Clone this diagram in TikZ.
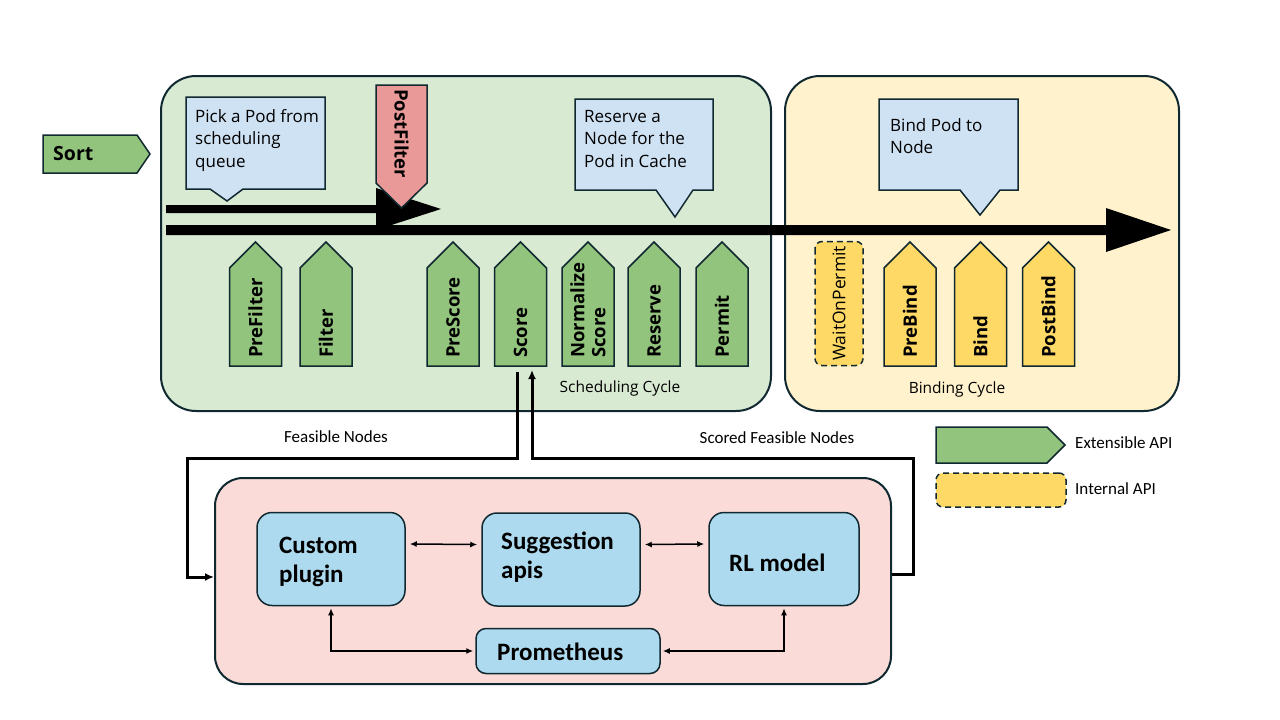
\documentclass[tikz,border=0pt]{standalone}
\usepackage{fontspec}
\setmainfont{Open Sans}
\newfontfamily\carl{Carlito}
\usetikzlibrary{arrows.meta}
\definecolor{bord}{RGB}{16,40,48}
\definecolor{schedbg}{RGB}{217,234,211}
\definecolor{bindbg}{RGB}{255,242,204}
\definecolor{extg}{RGB}{147,196,125}
\definecolor{inty}{RGB}{255,217,102}
\definecolor{postred}{RGB}{234,153,153}
\definecolor{callb}{RGB}{207,226,243}
\definecolor{pinkbg}{RGB}{250,219,216}
\definecolor{boxb}{RGB}{173,218,238}
\newcommand\uppent[3]{%
  \draw[#3] ({#2-26},366) -- ({#2-26},268) -- (#2,242) -- ({#2+26},268) -- ({#2+26},366) -- cycle;
  \coordinate (#1) at (#2,366);}
\tikzset{
  region/.style={draw=bord, line width=2pt, rounded corners=35pt, inner sep=0},
  callout/.style={draw=bord, line width=1.5pt, fill=callb},
  calltext/.style={anchor=north west, align=left, inner sep=0, font=\fontsize{17}{22.5}\selectfont},
  gpent/.style={draw=bord, line width=1.5pt, fill=extg},
  ypent/.style={draw=bord, line width=1.5pt, fill=inty},
  plabel/.style={rotate=90, anchor=west, inner sep=0, align=left, font=\bfseries\fontsize{18.5}{21}\selectfont},
  cyclelabel/.style={inner sep=0, font=\fontsize{15.5}{18}\selectfont},
  bbox/.style={draw=bord, line width=1.5pt, fill=boxb, rounded corners=15pt, inner sep=0},
  btext/.style={anchor=west, align=left, inner sep=0, font=\carl\bfseries\fontsize{25}{29}\selectfont},
  conn/.style={line width=3pt, -{Latex[length=9pt,width=8pt]}},
  sarrow/.style={line width=1.5pt, {Latex[length=7pt,width=6pt]}-{Latex[length=7pt,width=6pt]}},
  smalllabel/.style={inner sep=0, font=\carl\fontsize{17}{20}\selectfont},
}
\begin{document}
\begin{tikzpicture}[x=1pt,y=-1pt]
\useasboundingbox (0,0) rectangle (1280,720);
\fill[white] (0,0) rectangle (1280,720);

% regions
\node[region, fill=schedbg, minimum width=610pt, minimum height=335pt] (sched) at (466,243.5) {};
\node[region, fill=bindbg, minimum width=394pt, minimum height=335pt] (bindc) at (982,243.5) {};
\node[region, fill=pinkbg, rounded corners=28pt, minimum width=676pt, minimum height=206pt] (pink) at (553,581) {};

% Sort
\draw[gpent] (43,135) -- (137,135) -- (150,154) -- (137,173) -- (43,173) -- cycle;
\node[anchor=west, inner sep=0, font=\bfseries\fontsize{19.5}{22}\selectfont] (sort) at (53,154) {Sort};

% callouts
\draw[callout] (186,97) -- (325,97) -- (325,189) -- (243,189) -- (227,201) -- (210,189) -- (186,189) -- cycle;
\node[calltext] (pick) at (195,109) {Pick a Pod from\\scheduling\\queue};
\draw[callout] (575,99) -- (713,99) -- (713,190) -- (693,190) -- (675,217) -- (656,190) -- (575,190) -- cycle;
\node[calltext] (reservecall) at (584,110) {Reserve a\\Node for the\\Pod in Cache};
\draw[callout] (879,99) -- (1018,99) -- (1018,190) -- (1000,190) -- (980,215) -- (960,190) -- (879,190) -- cycle;
\node[calltext] (bindcall) at (890,118) {Bind Pod to\\Node};

% flow arrows
\fill[black] (166,205) -- (376,205) -- (376,188) -- (441,209) -- (376,230) -- (376,213) -- (166,213) -- cycle;
\fill[black] (166,225) -- (1106,225) -- (1106,208) -- (1171,230) -- (1106,252) -- (1106,235) -- (166,235) -- cycle;

% PostFilter
\draw[draw=bord, line width=1.5pt, fill=postred] (376,85) -- (427,85) -- (427,183) -- (401.5,208) -- (376,183) -- cycle;
\node[rotate=-90, anchor=west, inner sep=0, font=\bfseries\fontsize{18.5}{21}\selectfont] (postfilter) at (401.5,89) {PostFilter};

% scheduling cycle plugins
\uppent{prefilterb}{255.5}{gpent}
\uppent{filterb}{326}{gpent}
\uppent{prescoreb}{453}{gpent}
\uppent{scoreb}{520.5}{gpent}
\uppent{normb}{588}{gpent}
\uppent{reserveb}{654}{gpent}
\uppent{permitb}{722}{gpent}
\node[plabel] (prefilter) at (255.5,358) {PreFilter};
\node[plabel] (filter) at (326,358) {Filter};
\node[plabel] (prescore) at (453,358) {PreScore};
\node[plabel] (score) at (520.5,358) {Score};
\node[plabel] (normalize) at (588,358) {Normalize\\Score};
\node[plabel] (reserve) at (654,358) {Reserve};
\node[plabel] (permit) at (722,358) {Permit};
\node[cyclelabel] (schedlabel) at (620,388) {Scheduling Cycle};

% binding cycle plugins
\node[draw=bord, dashed, dash pattern=on 6pt off 4pt, line width=1.5pt, fill=inty, rounded corners=7pt,
      rotate=90, minimum width=124pt, minimum height=48pt, inner sep=0,
      font=\fontsize{17.5}{20}\selectfont] (wait) at (839,303.5) {WaitOnPermit};
\uppent{prebindb}{910}{ypent}
\uppent{bindb}{980.5}{ypent}
\uppent{postbindb}{1048.5}{ypent}
\node[plabel] (prebind) at (910,358) {PreBind};
\node[plabel] (bind) at (980.5,358) {Bind};
\node[plabel] (postbind) at (1048.5,358) {PostBind};
\node[cyclelabel] (bindlabel) at (957,389) {Binding Cycle};

% legend
\draw[gpent] (936,427) -- (1047,427) -- (1065,445) -- (1047,463) -- (936,463) -- cycle;
\node[smalllabel, anchor=west] (extapi) at (1075,443) {Extensible API};
\node[draw=bord, dashed, dash pattern=on 6pt off 4pt, line width=1.5pt, fill=inty, rounded corners=7pt,
      minimum width=130pt, minimum height=34pt, inner sep=0] (intbox) at (1001,490) {};
\node[smalllabel, anchor=west] (intapi) at (1075,489) {Internal API};

% bottom components
\node[bbox, minimum width=148pt, minimum height=93pt] (custom) at (331,559) {};
\node[bbox, minimum width=158pt, minimum height=93pt] (sugg) at (561,559.5) {};
\node[bbox, minimum width=150pt, minimum height=93pt] (rl) at (784,559) {};
\node[bbox, rounded corners=10pt, minimum width=184pt, minimum height=45pt] (prom) at (568,651) {};
\node[btext] (customtext) at (279,562) {Custom\\plugin};
\node[btext] (suggtext) at (501,557) {Suggestion\\apis};
\node[btext] (rltext) at (729,563) {RL model};
\node[btext] (promtext) at (497,652) {Prometheus};

\draw[sarrow] ([xshift=4pt,yshift=15pt]custom.east) -- ([xshift=-4pt,yshift=15pt]sugg.west);
\draw[sarrow] ([xshift=4pt,yshift=15pt]sugg.east) -- ([xshift=-4pt,yshift=15pt]rl.west);
\draw[sarrow] ([yshift=-2pt]custom.south) |- ([xshift=-2pt]prom.west);
\draw[sarrow] ([yshift=-2pt]rl.south) |- ([xshift=2pt]prom.east);

% connectors between Score and the pink box
\coordinate (fa) at (517,372);
\coordinate (sa) at (532,370);
\draw[conn] (fa) |- (187,458) |- ([yshift=4pt]pink.west);
\draw[conn] ([yshift=7pt]pink.east) -| (913,458) -| (sa);
\node[smalllabel] (feas) at (336,437) {Feasible Nodes};
\node[smalllabel] (scored) at (777,438) {Scored Feasible Nodes};
\end{tikzpicture}
\end{document}
